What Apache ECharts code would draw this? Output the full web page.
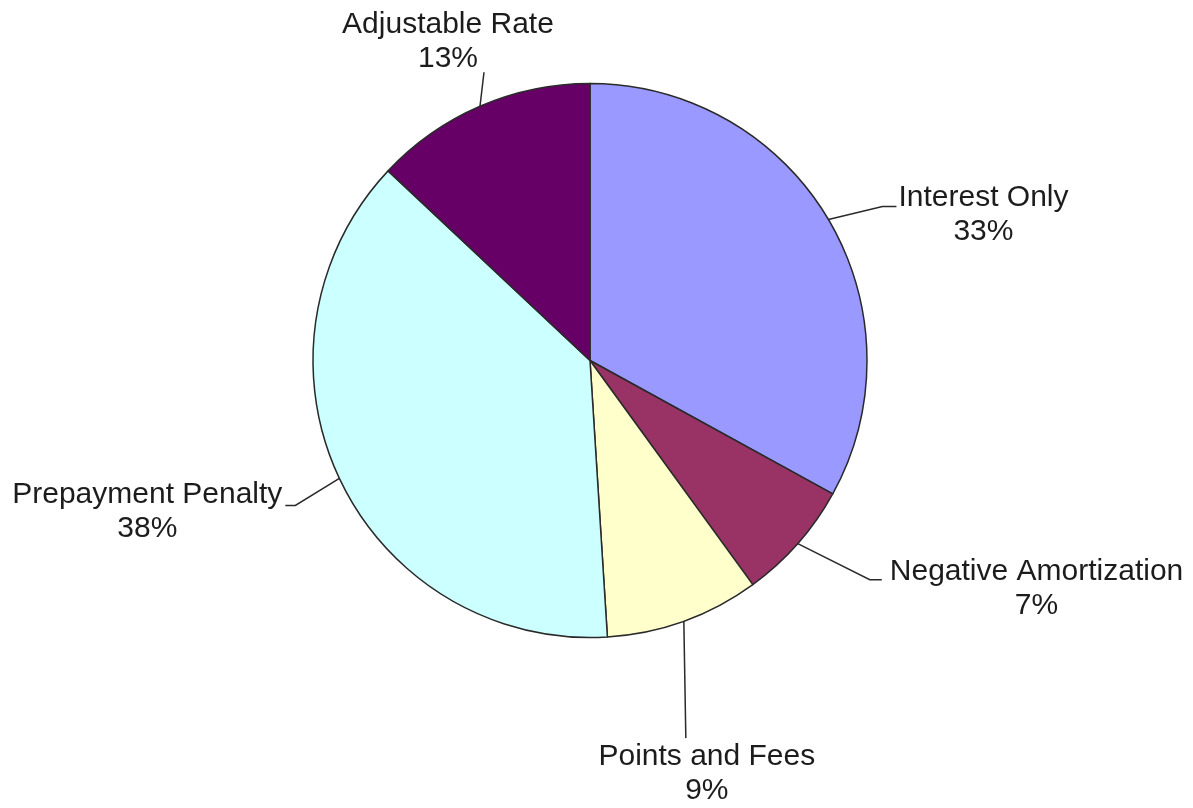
<!DOCTYPE html>
<html>
<head>
<meta charset="utf-8">
<script src="https://cdn.jsdelivr.net/npm/echarts@6/dist/echarts.min.js"></script>
<style>
html,body{margin:0;padding:0;background:#fff;}
#chart{width:1193px;height:808px;}
</style>
</head>
<body>
<div id="chart"></div>
<script>
// ---- data ----
const categories = ['Interest Only', 'Negative Amortization', 'Points and Fees', 'Prepayment Penalty', 'Adjustable Rate'];
const values = [33, 7, 9, 38, 13];
const colors = ['#9999FF', '#993366', '#FFFFCC', '#CCFFFF', '#660066'];

// ---- layout / style (not data) ----
const CX = 590, CY = 360.5, R = 277;
// leader geometry: elbow offset from slice edge, horizontal run, label placement
const leader = [
  {ex: 54, ey: -13, h: 14, side: 'right', gap: 2, dy: 8},
  {ex: 72, ey: 36, h: 12, side: 'right', gap: 8, dy: 9},
  {ex: 2, ey: 117, h: 0, side: 'below', dx: 21, dy: 36},
  {ex: -44, ey: 27, h: -10, side: 'left', gap: 3, dy: 6},
  {ex: 4, ey: -34, h: 0, side: 'above', dx: -36, dy: -31}
];

const total = values.reduce((a, b) => a + b, 0);
function edgePoint(i) {
  let before = 0;
  for (let k = 0; k < i; k++) before += values[k];
  const mid = (before + values[i] / 2) / total * Math.PI * 2;
  return [CX + R * Math.sin(mid), CY - R * Math.cos(mid)];
}

const chart = echarts.init(document.getElementById('chart'));
chart.setOption({
  animation: false,
  backgroundColor: '#ffffff',
  series: [{
    type: 'pie',
    center: [CX, CY],
    radius: R,
    startAngle: 90,
    clockwise: true,
    avoidLabelOverlap: false,
    silent: true,
    data: categories.map((c, i) => ({name: c, value: values[i], itemStyle: {color: colors[i]}})),
    itemStyle: {borderColor: '#2a2a2a', borderWidth: 1.5},
    label: {
      show: true,
      position: 'outside',
      formatter: '{b}\n{d}%',
      fontFamily: 'Liberation Sans, Arial, sans-serif',
      fontSize: 30,
      lineHeight: 34,
      color: '#1c1c1c',
      align: 'center'
    },
    labelLine: {
      show: true,
      length: 20,
      length2: 10,
      lineStyle: {color: '#2a2a2a', width: 1.5}
    },
    labelLayout: function (params) {
      const i = params.dataIndex;
      const g = leader[i];
      const e = edgePoint(i);
      const elbow = [e[0] + g.ex, e[1] + g.ey];
      const end = [elbow[0] + g.h, elbow[1]];
      const w = params.labelRect.width;
      let x, y;
      if (g.side === 'right') { x = end[0] + g.gap + w / 2; y = end[1] + g.dy; }
      else if (g.side === 'left') { x = end[0] - g.gap - w / 2; y = end[1] + g.dy; }
      else { x = end[0] + g.dx; y = end[1] + g.dy; }
      return {
        x: x, y: y, align: 'center', verticalAlign: 'middle',
        labelLinePoints: [e, elbow, end]
      };
    }
  }]
});
</script>
</body>
</html>
